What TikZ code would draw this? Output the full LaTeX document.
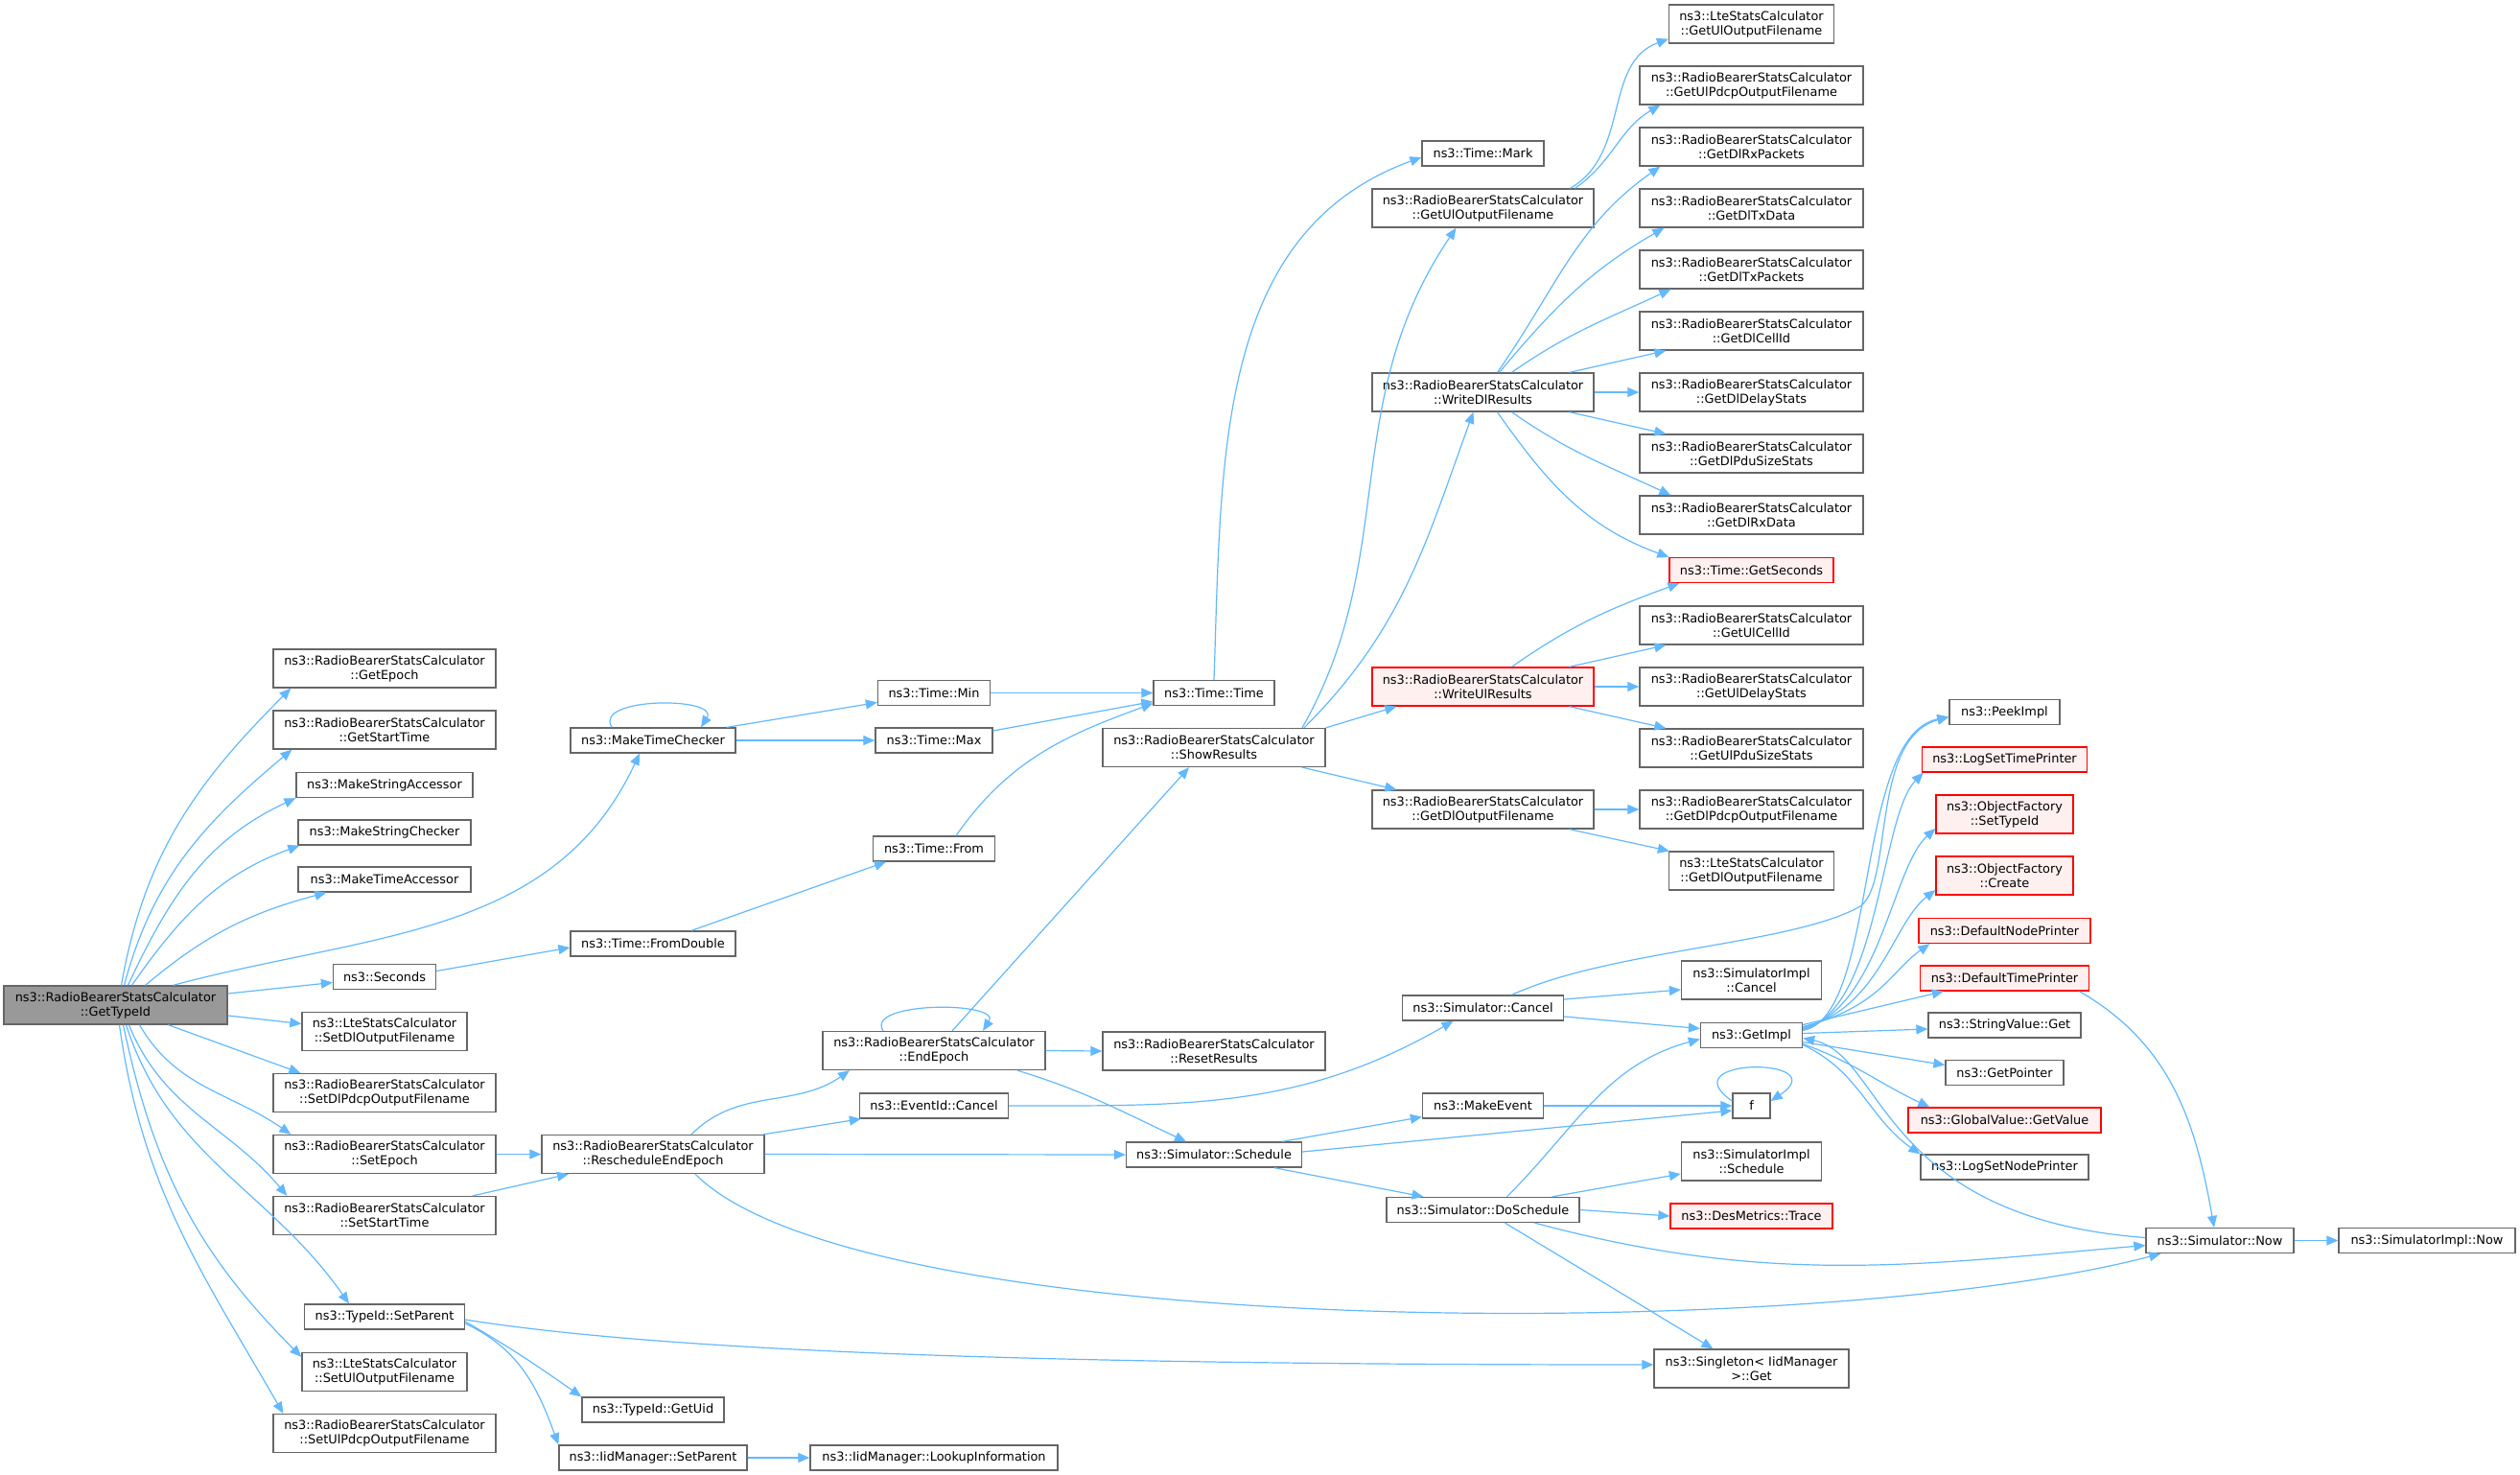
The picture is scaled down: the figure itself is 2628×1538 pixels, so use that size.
\documentclass[tikz,border=0pt]{standalone}
\usepackage{fontspec}
\setmainfont{DejaVu Sans}
\usepackage{tikz}
\usepackage{xcolor}
\usetikzlibrary{
    arrows.meta,
    shapes.misc
}
\definecolor{callblue}{HTML}{63B8FF}
\definecolor{boxgray}{HTML}{666666}
\definecolor{rootgray}{HTML}{999999}
\definecolor{docred}{HTML}{FF0000}
\definecolor{docredfill}{HTML}{FFF0F0}

\begin{document}
\begin{tikzpicture}[x=1pt, y=-1pt,
    fn/.style={draw=boxgray, line width=1.3pt, fill=white, inner sep=0pt, minimum height=26, align=center, font=\fontsize{12.9}{15}\selectfont},
    fnt/.style={fn, minimum height=40},
    fnred/.style={draw=docred, fill=docredfill},
    call/.style={callblue, line width=1.2pt, ->, >={Triangle[length=12pt, width=10pt]}}]
            \useasboundingbox (0,0) rectangle (2628,1538);

            % root
            \node[fnt, minimum width=233, fill=rootgray] (gettypeid) at (120.5,1048) {ns3::RadioBearerStatsCalculator\\::GetTypeId};

            % first column
            \node[fnt, minimum width=232] (getepoch)     at (401,697)    {ns3::RadioBearerStatsCalculator\\::GetEpoch};
            \node[fnt, minimum width=232] (getstarttime) at (401,761)    {ns3::RadioBearerStatsCalculator\\::GetStartTime};
            \node[fn,  minimum width=184] (mkstracc)     at (401,818.5)  {ns3::MakeStringAccessor};
            \node[fn,  minimum width=180] (mkstrchk)     at (401,868)    {ns3::MakeStringChecker};
            \node[fn,  minimum width=180] (mktimeacc)    at (401,917)    {ns3::MakeTimeAccessor};
            \node[fn,  minimum width=107] (seconds)      at (401,1018.5) {ns3::Seconds};
            \node[fnt, minimum width=172] (setdlout)     at (401,1075.5) {ns3::LteStatsCalculator\\::SetDlOutputFilename};
            \node[fnt, minimum width=232] (setdlpdcp)    at (401,1139.5) {ns3::RadioBearerStatsCalculator\\::SetDlPdcpOutputFilename};
            \node[fnt, minimum width=232] (setepoch)     at (401,1203.5) {ns3::RadioBearerStatsCalculator\\::SetEpoch};
            \node[fnt, minimum width=232] (setstarttime) at (401,1267.5) {ns3::RadioBearerStatsCalculator\\::SetStartTime};
            \node[fn,  minimum width=167] (tidsetparent) at (401,1373)   {ns3::TypeId::SetParent};
            \node[fnt, minimum width=172] (setulout)     at (401,1430.5) {ns3::LteStatsCalculator\\::SetUlOutputFilename};
            \node[fnt, minimum width=232] (setulpdcp)    at (401,1494.5) {ns3::RadioBearerStatsCalculator\\::SetUlPdcpOutputFilename};

            % second column
            \node[fn,  minimum width=172] (mktimechk)    at (681,772)    {ns3::MakeTimeChecker};
            \node[fn,  minimum width=172] (fromdouble)   at (681,984)    {ns3::Time::FromDouble};
            \node[fnt, minimum width=232] (resched)      at (681,1203.5) {ns3::RadioBearerStatsCalculator\\::RescheduleEndEpoch};
            \node[fn,  minimum width=148] (getuid)       at (681,1470)   {ns3::TypeId::GetUid};
            \node[fn,  minimum width=196] (iidsetparent) at (681,1520)   {ns3::IidManager::SetParent};

            % third column
            \node[fn,  minimum width=117] (timemin)      at (974,722.5)  {ns3::Time::Min};
            \node[fn,  minimum width=122] (timemax)      at (974,772)    {ns3::Time::Max};
            \node[fn,  minimum width=127] (timefrom)     at (974,885)    {ns3::Time::From};
            \node[fnt, minimum width=232] (endepoch)     at (974,1095.5) {ns3::RadioBearerStatsCalculator\\::EndEpoch};
            \node[fn,  minimum width=155] (eventcancel)  at (974,1153)   {ns3::EventId::Cancel};
            \node[fn,  minimum width=258] (lookup)       at (974,1520)   {ns3::IidManager::LookupInformation};

            % fourth column
            \node[fn,  minimum width=126] (timetime)     at (1266,722.5) {ns3::Time::Time};
            \node[fnt, minimum width=232] (showres)      at (1266,779.5) {ns3::RadioBearerStatsCalculator\\::ShowResults};
            \node[fnt, minimum width=232] (resetres)     at (1266,1096)  {ns3::RadioBearerStatsCalculator\\::ResetResults};
            \node[fn,  minimum width=183] (simschedule)  at (1266,1204)  {ns3::Simulator::Schedule};

            % fifth column
            \node[fn,  minimum width=127] (timemark)     at (1546.5,160)    {ns3::Time::Mark};
            \node[fnt, minimum width=231] (rbgetulout)   at (1546.5,217)    {ns3::RadioBearerStatsCalculator\\::GetUlOutputFilename};
            \node[fnt, minimum width=231] (writedl)      at (1546.5,409)    {ns3::RadioBearerStatsCalculator\\::WriteDlResults};
            \node[fnt, fnred, minimum width=231] (writeul) at (1546.5,716)  {ns3::RadioBearerStatsCalculator\\::WriteUlResults};
            \node[fnt, minimum width=231] (rbgetdlout)   at (1546.5,844)    {ns3::RadioBearerStatsCalculator\\::GetDlOutputFilename};
            \node[fn,  minimum width=168] (simcancel)    at (1546.5,1051)   {ns3::Simulator::Cancel};
            \node[fn,  minimum width=126] (makeevent)    at (1546.5,1153)   {ns3::MakeEvent};
            \node[fn,  minimum width=201] (doschedule)   at (1546.5,1261.5) {ns3::Simulator::DoSchedule};

            % sixth column
            \node[fnt, minimum width=172] (ltegetulout)  at (1826.5,25)   {ns3::LteStatsCalculator\\::GetUlOutputFilename};
            \node[fnt, minimum width=233] (getulpdcp)    at (1826.5,89)   {ns3::RadioBearerStatsCalculator\\::GetUlPdcpOutputFilename};
            \node[fnt, minimum width=233] (getdlrxpk)    at (1826.5,153)  {ns3::RadioBearerStatsCalculator\\::GetDlRxPackets};
            \node[fnt, minimum width=233] (getdltxdata)  at (1826.5,217)  {ns3::RadioBearerStatsCalculator\\::GetDlTxData};
            \node[fnt, minimum width=233] (getdltxpk)    at (1826.5,281)  {ns3::RadioBearerStatsCalculator\\::GetDlTxPackets};
            \node[fnt, minimum width=233] (getdlcellid)  at (1826.5,345)  {ns3::RadioBearerStatsCalculator\\::GetDlCellId};
            \node[fnt, minimum width=233] (getdldelay)   at (1826.5,409)  {ns3::RadioBearerStatsCalculator\\::GetDlDelayStats};
            \node[fnt, minimum width=233] (getdlpdu)     at (1826.5,473)  {ns3::RadioBearerStatsCalculator\\::GetDlPduSizeStats};
            \node[fnt, minimum width=233] (getdlrxdata)  at (1826.5,537)  {ns3::RadioBearerStatsCalculator\\::GetDlRxData};
            \node[fn, fnred, minimum width=171] (getseconds) at (1826.5,594.5) {ns3::Time::GetSeconds};
            \node[fnt, minimum width=233] (getulcellid)  at (1826.5,652)  {ns3::RadioBearerStatsCalculator\\::GetUlCellId};
            \node[fnt, minimum width=233] (getuldelay)   at (1826.5,716)  {ns3::RadioBearerStatsCalculator\\::GetUlDelayStats};
            \node[fnt, minimum width=233] (getulpdu)     at (1826.5,780)  {ns3::RadioBearerStatsCalculator\\::GetUlPduSizeStats};
            \node[fnt, minimum width=233] (getdlpdcp)    at (1826.5,844)  {ns3::RadioBearerStatsCalculator\\::GetDlPdcpOutputFilename};
            \node[fnt, minimum width=172] (ltegetdlout)  at (1826.5,908)  {ns3::LteStatsCalculator\\::GetDlOutputFilename};
            \node[fnt, minimum width=146] (simimplcancel) at (1826.5,1022) {ns3::SimulatorImpl\\::Cancel};
            \node[fn,  minimum width=106] (getimpl)      at (1826.5,1079.5) {ns3::GetImpl};
            \node[fn,  minimum width=39]  (fcall)        at (1826.5,1153) {f};
            \node[fnt, minimum width=146] (simimplschedule) at (1826.5,1211) {ns3::SimulatorImpl\\::Schedule};
            \node[fn, fnred, minimum width=169] (destrace) at (1826.5,1268) {ns3::DesMetrics::Trace};
            \node[fnt, minimum width=203] (singleton)    at (1826.5,1427) {ns3::Singleton< IidManager\\ >::Get};

            % seventh column
            \node[fn, minimum width=115] (peekimpl)       at (2090.5,742.5)  {ns3::PeekImpl};
            \node[fn, fnred, minimum width=172] (logsettime) at (2090.5,792) {ns3::LogSetTimePrinter};
            \node[fnt, fnred, minimum width=143] (objsettypeid) at (2090.5,849) {ns3::ObjectFactory\\::SetTypeId};
            \node[fnt, fnred, minimum width=143] (objcreate) at (2090.5,913) {ns3::ObjectFactory\\::Create};
            \node[fn, fnred, minimum width=179] (defnodeprinter) at (2090.5,970.5) {ns3::DefaultNodePrinter};
            \node[fn, fnred, minimum width=176] (deftimeprinter) at (2090.5,1020) {ns3::DefaultTimePrinter};
            \node[fn, minimum width=159] (stringvalueget) at (2090.5,1069)   {ns3::StringValue::Get};
            \node[fn, minimum width=123] (getpointer)     at (2090.5,1118.5) {ns3::GetPointer};
            \node[fn, fnred, minimum width=201] (globalvalue) at (2090.5,1168) {ns3::GlobalValue::GetValue};
            \node[fn, minimum width=175] (logsetnode)     at (2090.5,1217)   {ns3::LogSetNodePrinter};

            \node[fn, minimum width=154] (simnow)     at (2315,1293.5) {ns3::Simulator::Now};
            \node[fn, minimum width=184] (simimplnow) at (2531,1293.5) {ns3::SimulatorImpl::Now};

            % calls of GetTypeId
            \draw[call] ([xshift=6]gettypeid.north) to[out=80,in=225] ([xshift=19]getepoch.south west);
            \draw[call] ([xshift=9]gettypeid.north) to[out=75,in=220] ([xshift=20]getstarttime.south west);
            \draw[call] ([xshift=13]gettypeid.north) to[out=65,in=205] (mkstracc.south west);
            \draw[call] ([xshift=17]gettypeid.north) to[out=55,in=200] ([xshift=2]mkstrchk.south west);
            \draw[call] ([xshift=31]gettypeid.north) to[out=40,in=195] ([xshift=30]mktimeacc.south west);
            \draw[call] ([xshift=60]gettypeid.north) to[out=15,in=245] ([xshift=-14]mktimechk.south);
            \draw[call] ([yshift=12]gettypeid.east) -- ([yshift=-6]seconds.west);
            \draw[call] ([yshift=-11]gettypeid.east) -- ([yshift=8]setdlout.west);
            \draw[call] ([xshift=55]gettypeid.south) -- ([xshift=29]setdlpdcp.north west);
            \draw[call] ([xshift=25]gettypeid.south) to[out=-60,in=145] ([xshift=19]setepoch.north west);
            \draw[call] ([xshift=14]gettypeid.south) to[out=-68,in=130] ([xshift=15]setstarttime.north west);
            \draw[call] ([xshift=11]gettypeid.south) to[out=-72,in=125] ([xshift=-37]tidsetparent.north);
            \draw[call] ([xshift=8]gettypeid.south) to[out=-78,in=135] ([yshift=-5]setulout.north west);
            \draw[call] ([xshift=4]gettypeid.south) to[out=-82,in=120] ([xshift=11]setulpdcp.north west);

            % time helpers
            \draw[call] ([xshift=-43]mktimechk.north) .. controls +(-20,-32) and +(20,-32) .. ([xshift=50]mktimechk.north);
            \draw[call] ([xshift=77]mktimechk.north) -- ([yshift=-10]timemin.west);
            \draw[call] (mktimechk.east) -- (timemax.west);
            \draw[call] (timemin.east) -- (timetime.west);
            \draw[call] ([yshift=10]timemax.east) -- ([yshift=-9]timetime.west);
            \draw[call] ([xshift=23]timefrom.north) to[out=55,in=200] ([yshift=-11]timetime.west);
            \draw[call] ([xshift=40]fromdouble.north) -- ([xshift=-50]timefrom.south);
            \draw[call] ([yshift=6]seconds.east) -- ([yshift=-4]fromdouble.west);
            \draw[call] (timetime.north) to[out=88,in=200] ([yshift=-4]timemark.west);

            % RescheduleEndEpoch
            \draw[call] (setepoch.east) -- (resched.west);
            \draw[call] ([xshift=92]setstarttime.north) -- ([xshift=-88]resched.south);
            \draw[call] ([xshift=40]resched.north) to[out=45,in=215] ([xshift=-88]endepoch.south);
            \draw[call] ([xshift=115]resched.north) -- ([xshift=2]eventcancel.south west);
            \draw[call] (resched.east) -- (simschedule.west);
            \draw[call] ([xshift=44]resched.south) .. controls (900,1400) and (1900,1400) .. ([xshift=16]simnow.south west);

            % TypeId::SetParent
            \draw[call] ([yshift=-5]tidsetparent.east) to[out=-30,in=145] (getuid.north west);
            \draw[call] ([yshift=-7]tidsetparent.east) to[out=-25,in=110] (iidsetparent.north west);
            \draw[call] ([yshift=-3]tidsetparent.east) .. controls (700,1410) and (1100,1423) .. ([yshift=4]singleton.west);
            \draw[call] (iidsetparent.east) -- (lookup.west);

            % EndEpoch
            \draw[call] ([xshift=-53]endepoch.north) .. controls +(-20,-31) and +(20,-31) .. ([xshift=51]endepoch.north);
            \draw[call] ([xshift=19]endepoch.north) -- ([xshift=-26]showres.south);
            \draw[call] (endepoch.east) -- (resetres.west);
            \draw[call] ([xshift=87]endepoch.south) to[out=-17,in=155] ([xshift=-29]simschedule.north);
            \draw[call] (eventcancel.east) to[out=0,in=210] ([xshift=-31]simcancel.south);

            % ShowResults
            \draw[call] ([xshift=92]showres.north) .. controls (1460,580) and (1395,420) .. ([xshift=-28]rbgetulout.south);
            \draw[call] ([xshift=94]showres.north) to[out=45,in=250] ([xshift=-10]writedl.south);
            \draw[call] (showres.north east) -- ([xshift=26]writeul.south west);
            \draw[call] ([xshift=92]showres.south) -- ([xshift=26]rbgetdlout.north west);

            \draw[call] ([xshift=91]rbgetulout.north) to[out=30,in=200] ([yshift=5]ltegetulout.south west);
            \draw[call] ([xshift=96]rbgetulout.north) to[out=35,in=210] ([xshift=22]getulpdcp.south west);

            % WriteDlResults
            \draw[call] ([xshift=15]writedl.north) to[out=55,in=215] ([xshift=22]getdlrxpk.south west);
            \draw[call] ([xshift=17]writedl.north) to[out=50,in=210] ([xshift=26]getdltxdata.south west);
            \draw[call] ([xshift=30]writedl.north) to[out=35,in=205] ([xshift=33]getdltxpk.south west);
            \draw[call] ([xshift=90]writedl.north) -- ([xshift=28]getdlcellid.south west);
            \draw[call] (writedl.east) -- (getdldelay.west);
            \draw[call] ([xshift=90]writedl.south) -- ([xshift=28]getdlpdu.north west);
            \draw[call] ([xshift=30]writedl.south) to[out=-35,in=155] ([xshift=33]getdlrxdata.north west);
            \draw[call] ([xshift=15]writedl.south) to[out=-55,in=160] (getseconds.north west);

            % WriteUlResults
            \draw[call] ([xshift=30]writeul.north) to[out=35,in=200] ([xshift=11]getseconds.south west);
            \draw[call] ([xshift=90]writeul.north) -- ([xshift=28]getulcellid.south west);
            \draw[call] (writeul.east) -- (getuldelay.west);
            \draw[call] ([xshift=90]writeul.south) -- ([xshift=28]getulpdu.north west);

            \draw[call] (rbgetdlout.east) -- (getdlpdcp.west);
            \draw[call] ([xshift=90]rbgetdlout.south) -- ([xshift=1]ltegetdlout.north west);

            % Simulator::Schedule
            \draw[call] ([xshift=71]simschedule.north) -- ([yshift=2]makeevent.south west);
            \draw[call] ([yshift=3]simschedule.east) -- ([yshift=-5]fcall.west);
            \draw[call] ([xshift=63]simschedule.south) -- ([xshift=-62]doschedule.north);
            \draw[call] (makeevent.east) -- (fcall.west);
            \draw[call] ([yshift=5]fcall.west) .. controls +(-67,-46) and +(69,-46) .. ([yshift=5]fcall.east);

            % Simulator::Cancel
            \draw[call] ([yshift=9]simcancel.east) -- ([yshift=-10]simimplcancel.west);
            \draw[call] ([yshift=-9]simcancel.east) -- ([yshift=7]getimpl.west);
            \draw[call] ([xshift=30]simcancel.north) .. controls (1680,990) and (1870,985) .. (1940,945) .. controls (1975,920) and (1950,770) .. ([yshift=-5]peekimpl.west);

            % GetImpl
            \draw[call] ([yshift=5]getimpl.east) .. controls +(80,-15) and +(-100,20) .. ([yshift=-5]peekimpl.west);
            \draw[call] ([yshift=6]getimpl.east) .. controls +(80,-20) and +(-45,45) .. ([xshift=2]logsettime.south west);
            \draw[call] ([yshift=7]getimpl.east) .. controls +(80,-20) and +(-45,40) .. ([yshift=-15]objsettypeid.west);
            \draw[call] ([yshift=8]getimpl.east) .. controls +(80,-20) and +(-45,35) .. ([yshift=-15]objcreate.west);
            \draw[call] ([yshift=9]getimpl.east) .. controls +(80,-20) and +(-40,28) .. ([xshift=12]defnodeprinter.south west);
            \draw[call] ([yshift=11]getimpl.east) -- ([xshift=25]deftimeprinter.south west);
            \draw[call] ([yshift=2]getimpl.east) -- ([yshift=-4]stringvalueget.west);
            \draw[call] ([yshift=-7]getimpl.east) -- ([yshift=8]getpointer.west);
            \draw[call] ([yshift=-9]getimpl.east) to[out=-20,in=155] ([xshift=23]globalvalue.north west);
            \draw[call] ([yshift=-10]getimpl.east) to[out=-25,in=145] (logsetnode.north west);

            % Simulator::Now
            \draw[call] ([yshift=3]simnow.west) .. controls (1960,1270) and (1965,1100) .. ([yshift=-3]getimpl.east);
            \draw[call] ([xshift=78]deftimeprinter.south) to[out=-30,in=100] ([xshift=-6]simnow.north);
            \draw[call] (simnow.east) -- (simimplnow.west);

            % DoSchedule
            \draw[call] ([xshift=25]doschedule.north) to[out=45,in=195] ([yshift=-4]getimpl.west);
            \draw[call] ([xshift=72]doschedule.north) -- ([yshift=-13]simimplschedule.west);
            \draw[call] (doschedule.east) -- (destrace.west);
            \draw[call] ([xshift=54]doschedule.south) to[out=-15,in=185] ([yshift=-5]simnow.west);
            \draw[call] ([xshift=23]doschedule.south) -- ([xshift=-40]singleton.north);
\end{tikzpicture}
\end{document}
